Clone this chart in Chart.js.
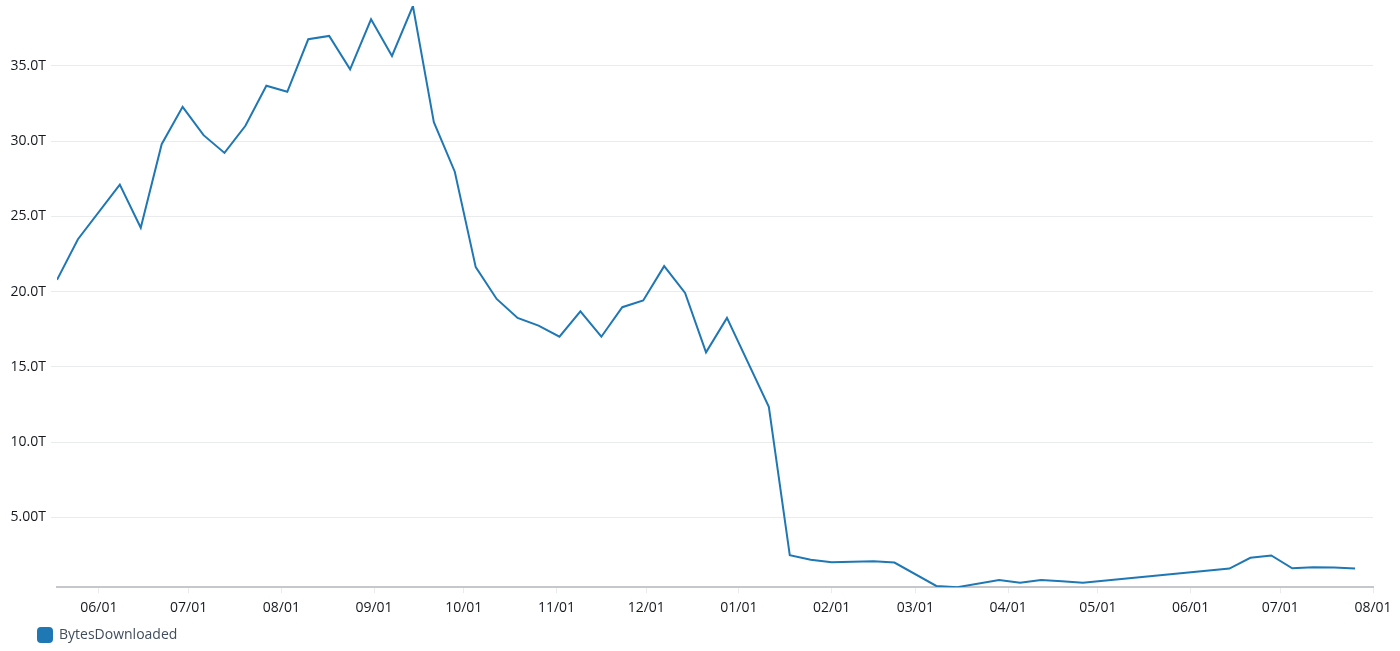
<!DOCTYPE html>
<html>
<head>
<meta charset="utf-8">
<title>BytesDownloaded</title>
<script src="https://cdn.jsdelivr.net/npm/chart.js@4/dist/chart.umd.min.js"></script>
<style>
  html, body { margin: 0; padding: 0; background: #ffffff; }
  #wrap { position: relative; width: 1400px; height: 651px; }
</style>
</head>
<body>
<div id="wrap"><canvas id="chart"></canvas></div>
<script>
(function () {
  'use strict';

  // Semaines (une mesure par semaine)
  const dates = [
    '2022-05-18', '2022-05-25', '2022-06-01', '2022-06-08', '2022-06-15', '2022-06-22', '2022-06-29',
    '2022-07-06', '2022-07-13', '2022-07-20', '2022-07-27', '2022-08-03', '2022-08-10', '2022-08-17',
    '2022-08-24', '2022-08-31', '2022-09-07', '2022-09-14', '2022-09-21', '2022-09-28', '2022-10-05',
    '2022-10-12', '2022-10-19', '2022-10-26', '2022-11-02', '2022-11-09', '2022-11-16', '2022-11-23',
    '2022-11-30', '2022-12-07', '2022-12-14', '2022-12-21', '2022-12-28', '2023-01-04', '2023-01-11',
    '2023-01-18', '2023-01-25', '2023-02-01', '2023-02-08', '2023-02-15', '2023-02-22', '2023-03-01',
    '2023-03-08', '2023-03-15', '2023-03-22', '2023-03-29', '2023-04-05', '2023-04-12', '2023-04-19',
    '2023-04-26', '2023-05-03', '2023-05-10', '2023-05-17', '2023-05-24', '2023-05-31', '2023-06-07',
    '2023-06-14', '2023-06-21', '2023-06-28', '2023-07-05', '2023-07-12', '2023-07-19', '2023-07-26'
  ];

  // BytesDownloaded, en téraoctets (null = pas de mesure, la ligne relie les points)
  const bytesDownloaded = [
    20.78, 23.48, null, 27.10, 24.24, 29.79, 32.27,
    30.39, 29.21, 31.01, 33.67, 33.27, 36.76, 36.98,
    34.76, 38.09, 35.65, 38.97, 31.25, 27.96, 21.62,
    19.51, 18.25, 17.74, 17.00, 18.69, 17.00, 18.96,
    19.41, 21.69, 19.91, 15.96, 18.25, null, 12.34,
    2.49, 2.18, 2.02, 2.05, 2.09, 2.00, null,
    0.44, 0.36, null, 0.83, 0.65, 0.83, 0.76,
    0.65, null, null, null, null, null, null,
    1.60, 2.31, 2.47, 1.62, 1.69, 1.67, 1.60
  ];

  const xTickDates = [
    '2022-06-01', '2022-07-01', '2022-08-01', '2022-09-01', '2022-10-01', '2022-11-01', '2022-12-01',
    '2023-01-01', '2023-02-01', '2023-03-01', '2023-04-01', '2023-05-01', '2023-06-01', '2023-07-01',
    '2023-08-01'
  ];
  const xTickLabels = [
    '06/01', '07/01', '08/01', '09/01', '10/01', '11/01', '12/01',
    '01/01', '02/01', '03/01', '04/01', '05/01', '06/01', '07/01', '08/01'
  ];

  const yTickValues = [5, 10, 15, 20, 25, 30, 35];
  const yTickLabels = ['5.00T', '10.0T', '15.0T', '20.0T', '25.0T', '30.0T', '35.0T'];

  const COULEUR = '#1f77b4';

  // date ISO -> nombre de jours (axe x linéaire, pas d'adaptateur de dates)
  function jour(iso) {
    const p = iso.split('-').map(Number);
    return Date.UTC(p[0], p[1] - 1, p[2]) / 86400000;
  }

  const points = dates.map((d, i) => ({ x: jour(d), y: bytesDownloaded[i] }));
  const xTicks = xTickDates.map(jour);
  const valeurs = bytesDownloaded.filter(v => v !== null);

  // La légende est décalée vers la droite, sous les étiquettes de l'axe y
  const decalerLegende = {
    id: 'decalerLegende',
    afterLayout(chart) {
      if (chart.legend) chart.legend.left = 32;
    }
  };

  Chart.defaults.font.family = '"Open Sans", "Noto Sans", sans-serif';
  Chart.defaults.font.size = 14;

  new Chart(document.getElementById('chart'), {
    type: 'line',
    data: {
      datasets: [{
        label: 'BytesDownloaded',
        data: points,
        borderColor: COULEUR,
        backgroundColor: COULEUR,
        borderWidth: 2,
        pointRadius: 0,
        pointHoverRadius: 0,
        tension: 0,
        fill: false,
        spanGaps: true
      }]
    },
    plugins: [decalerLegende],
    options: {
      responsive: true,
      maintainAspectRatio: false,
      animation: false,
      layout: { padding: { left: 0, right: 27, top: 6, bottom: -1 } },
      plugins: {
        tooltip: { enabled: false },
        legend: {
          position: 'bottom',
          align: 'start',
          labels: {
            boxWidth: 14,
            boxHeight: 14,
            useBorderRadius: true,
            borderRadius: 3,
            padding: 6,
            color: '#414d5c',
            font: { size: 14 }
          }
        }
      },
      scales: {
        x: {
          type: 'linear',
          min: jour(dates[0]),
          max: xTicks[xTicks.length - 1],
          afterBuildTicks: (scale) => {
            scale.ticks = xTicks.map(v => ({ value: v }));
          },
          ticks: {
            autoSkip: false,
            maxRotation: 0,
            padding: 6,
            color: '#16191f',
            callback: (value) => {
              const i = xTicks.indexOf(value);
              return i >= 0 ? xTickLabels[i] : '';
            }
          },
          grid: {
            drawOnChartArea: false,
            drawTicks: true,
            tickLength: 6,
            color: '#e9ebed'
          },
          border: { display: true, color: '#c6c6cd', width: 2 }
        },
        y: {
          min: Math.min(...valeurs),
          max: Math.max(...valeurs),
          afterFit: (scale) => {
            scale.width = 57;
            scale.paddingTop = 0;
            scale.paddingBottom = 0;
          },
          afterBuildTicks: (scale) => {
            scale.ticks = yTickValues.map(v => ({ value: v }));
          },
          ticks: {
            padding: 5,
            color: '#16191f',
            callback: (value) => {
              const i = yTickValues.indexOf(value);
              return i >= 0 ? yTickLabels[i] : '';
            }
          },
          grid: {
            drawTicks: true,
            tickLength: 6,
            color: '#e9ebed',
            lineWidth: 1
          },
          border: { display: false }
        }
      }
    }
  });
})();
</script>
</body>
</html>
